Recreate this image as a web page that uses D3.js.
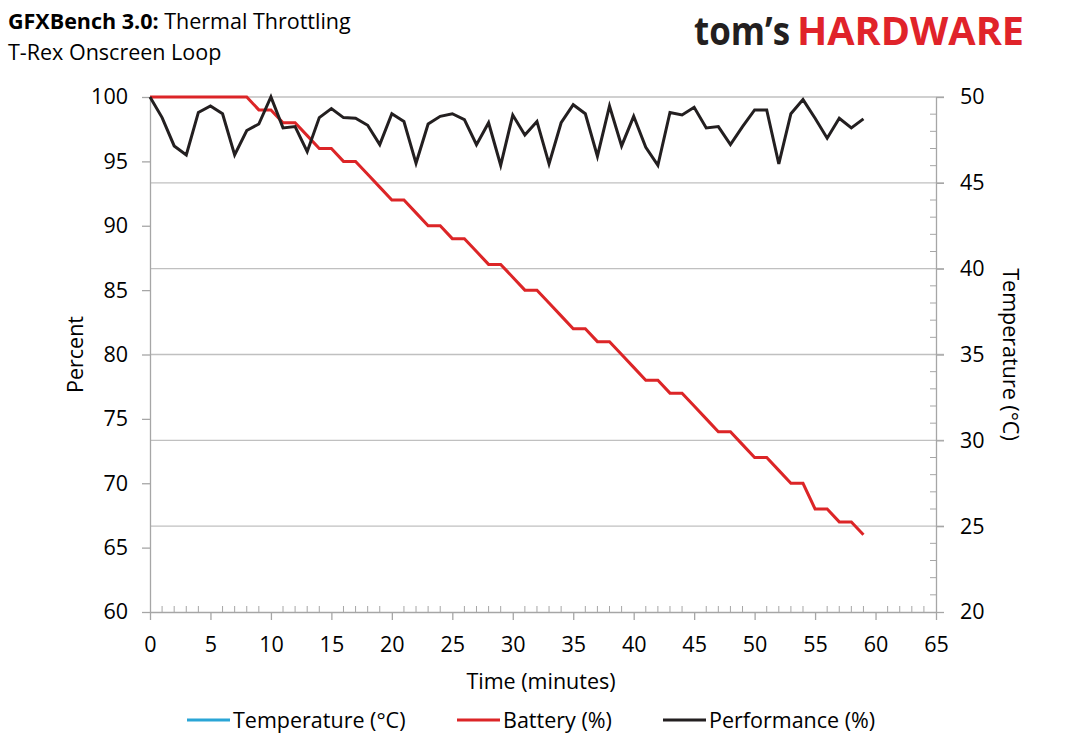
<!DOCTYPE html>
<html>
<head>
<meta charset="utf-8">
<script src="https://cdn.jsdelivr.net/npm/d3@7"></script>
<style>
  body { margin: 0; background: #fff; }
  svg text { font-family: "Open Sans", sans-serif; fill: #000; }
</style>
</head>
<body>
<div id="plot"></div>
<script>
// minutes 0..59
const minutes = d3.range(0, 60);
const battery = [100,100,100,100,100,100,100,100,100,99, 99,98,98,97,96,96,95,95,94,93,
                 92,92,91,90,90,89,89,88,87,87, 86,85,85,84,83,82,82,81,81,80,
                 79,78,78,77,77,76,75,74,74,73, 72,72,71,70,70,68,68,67,67,66];
const performance = [100,98.4,96.2,95.5,98.8,99.3,98.7,95.5,97.4,97.9, 100,97.6,97.7,95.75,98.4,99.1,98.4,98.35,97.8,96.3,
                     98.7,98.1,94.85,97.9,98.5,98.7,98.25,96.3,98.0,94.7, 98.6,97.05,98.1,94.8,98.0,99.4,98.7,95.4,99.3,96.2,
                     98.5,96.1,94.7,98.8,98.6,99.2,97.6,97.7,96.3,97.7, 99.0,99.0,94.8,98.7,99.8,98.35,96.8,98.35,97.6,98.3];
// temperature series is listed in the legend but not plotted
const temperature = [];
const xTicks = d3.range(0, 70, 5);
const leftTicks = d3.range(60, 105, 5);
const rightTicks = d3.range(20, 55, 5);
const legendItems = ["Temperature (°C)", "Battery (%)", "Performance (%)"];
const colors = ["#2aa5d6", "#dc2527", "#231f20"];

window.addEventListener("load", main);

function main(){
  const width = 1065, height = 745;
  const left = 150, right = 936, top = 97, bottom = 612;
  const axisColor = "#a6a6a6", gridColor = "#c0c0c0";
  const fs = 21.5;

  let svg = d3.select("#plot").append("svg")
    .attr("width", width)
    .attr("height", height);

  let x = d3.scaleLinear().domain([0, 65]).range([left, right]);
  let yL = d3.scaleLinear().domain([60, 100]).range([bottom, top]);
  let yR = d3.scaleLinear().domain([20, 50]).range([bottom, top]);

  // gridlines from right axis
  svg.append("g").selectAll("line")
    .data(rightTicks.filter(d => d > 20))
    .join("line")
      .attr("x1", left).attr("x2", right + 8)
      .attr("y1", d => yR(d)).attr("y2", d => yR(d))
      .attr("stroke", gridColor).attr("stroke-width", 1.3);

  // minor ticks
  svg.append("g").selectAll("line")
    .data(d3.range(0, 66).filter(d => d % 5 !== 0))
    .join("line")
      .attr("x1", d => x(d)).attr("x2", d => x(d))
      .attr("y1", bottom).attr("y2", bottom - 6)
      .attr("stroke", axisColor);
  svg.append("g").selectAll("line")
    .data(d3.range(20, 51).filter(d => d % 5 !== 0))
    .join("line")
      .attr("x1", right - 6).attr("x2", right)
      .attr("y1", d => yR(d)).attr("y2", d => yR(d))
      .attr("stroke", axisColor);

  // axes
  let gx = svg.append("g").attr("transform", `translate(0,${bottom})`)
    .call(d3.axisBottom(x).tickValues(xTicks).tickSize(8).tickSizeOuter(0).tickPadding(17));
  let gl = svg.append("g").attr("transform", `translate(${left},0)`)
    .call(d3.axisLeft(yL).tickValues(leftTicks).tickSize(8).tickSizeOuter(0).tickPadding(14));
  let gr = svg.append("g").attr("transform", `translate(${right},0)`)
    .call(d3.axisRight(yR).tickValues(rightTicks).tickSize(8).tickSizeOuter(0).tickPadding(16));
  [gx, gl, gr].forEach(g => {
    g.selectAll("path,line").attr("stroke", axisColor).attr("stroke-width", 1.3);
    g.selectAll("text").attr("font-size", fs).attr("font-family", '"Open Sans", sans-serif').attr("fill", "#000");
  });

  // lines
  let lineL = d3.line().x((d, i) => x(minutes[i])).y(d => yL(d));
  let lineR = d3.line().x((d, i) => x(minutes[i])).y(d => yR(d));
  svg.append("path").datum(temperature).attr("d", lineR)
    .attr("fill", "none").attr("stroke", colors[0]).attr("stroke-width", 3);
  svg.append("path").datum(battery).attr("d", lineL)
    .attr("fill", "none").attr("stroke", colors[1]).attr("stroke-width", 3);
  svg.append("path").datum(performance).attr("d", lineL)
    .attr("fill", "none").attr("stroke", colors[2]).attr("stroke-width", 3)
    .attr("stroke-linejoin", "miter");

  // axis titles
  svg.append("text").attr("transform", `translate(83,${(top + bottom) / 2}) rotate(-90)`)
    .attr("text-anchor", "middle").attr("font-size", fs).text("Percent");
  svg.append("text").attr("transform", `translate(1003,${(top + bottom) / 2}) rotate(90)`)
    .attr("text-anchor", "middle").attr("font-size", fs).text("Temperature (°C)");
  svg.append("text").attr("x", (left + right) / 2 - 2).attr("y", 689)
    .attr("text-anchor", "middle").attr("font-size", fs).text("Time (minutes)");

  // title
  let t = svg.append("text").attr("x", 8).attr("y", 29).attr("font-size", 21.5);
  t.append("tspan").attr("font-weight", "bold").text("GFXBench 3.0:");
  t.append("tspan").text(" Thermal Throttling");
  svg.append("text").attr("x", 8).attr("y", 60).attr("font-size", 21.5).text("T-Rex Onscreen Loop");

  // logo
  svg.append("text").attr("x", 694).attr("y", 45).attr("font-size", 40)
    .attr("font-family", "Roboto, sans-serif").attr("font-weight", "bold")
    .attr("textLength", 96).attr("lengthAdjust", "spacingAndGlyphs")
    .style("fill", "#231f20").text("tom’s");
  svg.append("text").attr("x", 797).attr("y", 45).attr("font-size", 40)
    .attr("font-family", "Roboto, sans-serif").attr("font-weight", "bold")
    .attr("textLength", 227).attr("lengthAdjust", "spacingAndGlyphs")
    .style("fill", "#e0232a").text("HARDWARE");

  // legend
  const legX = [187, 457, 663];
  let leg = svg.append("g").selectAll("g").data(legendItems).join("g")
    .attr("transform", (d, i) => `translate(${legX[i]},720)`);
  leg.append("line").attr("x1", 0).attr("x2", 43)
    .attr("stroke", (d, i) => colors[i]).attr("stroke-width", 3);
  leg.append("text").attr("x", 46).attr("y", 8).attr("font-size", fs).text(d => d);
}
</script>
</body>
</html>
